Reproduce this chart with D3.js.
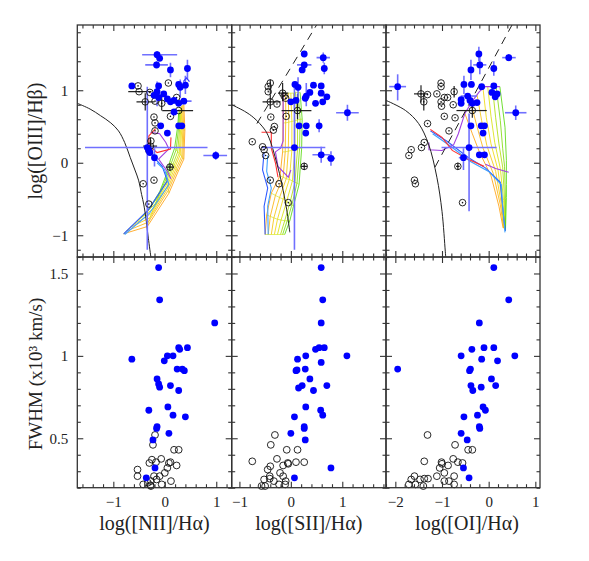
<!DOCTYPE html>
<html>
<head>
<meta charset="utf-8">
<script src="https://cdn.jsdelivr.net/npm/d3@7"></script>
<style>
  body { margin: 0; background: #fff; }
  text { font-family: "Liberation Serif", "DejaVu Serif", serif; fill: #222; }
</style>
</head>
<body>
<div class="chart"></div>
<script>
// panel layout
const W = 589, H = 561;
const colRanges = [[77.3, 231.7], [231.7, 386], [386, 540]];
const xDomains = [[-1.7, 1.3], [-1.15, 1.85], [-2.2, 1.1]];
const xTitles = ["log([NII]/Hα)", "log([SII]/Hα)", "log([OI]/Hα)"];
const yTopDomain = [-1.3, 1.9];
const yBotDomain = [0.2, 1.6];

// ---- top row: line ratios, blue = broad, black = narrow ----
const niiBlue = [[-0.15,1.49],[-0.10,1.44],[-0.16,1.35],[0.11,1.28],[0.44,1.30],[0.40,1.07],[-0.64,1.06],[-0.12,1.06],[0.27,1.08],[0.30,1.04],[-0.15,0.98],[-0.21,0.93],[-0.02,0.95],[-0.12,0.90],[0.05,0.88],[0.11,0.84],[0.18,0.86],[0.27,0.82],[0.37,0.85],[0.18,0.70],[-0.08,0.51],[0.27,0.51],[0.33,0.51],[0.05,0.41],[-0.34,0.21],[-0.31,0.17],[-0.29,0.14],[-0.20,0.07],[0.99,0.10]];
// [x, y, xlo, xhi, ylo, yhi]
const niiBlueErr = [[-0.15,1.49,-0.44,0.24,1.44,1.54],[-0.16,1.35,-0.38,0.06,1.30,1.40],[0.11,1.28,0.11,0.11,1.18,1.38],[0.44,1.30,0.44,0.44,1.15,1.42],[0.40,1.07,0.40,0.40,0.95,1.20],[-0.15,0.98,-0.15,-0.15,0.78,1.12],[0.30,1.04,0.30,0.30,0.90,1.15],[-0.34,0.21,-1.55,0.83,-1.20,1.05],[0.99,0.10,0.75,1.21,0.04,0.16],[-0.20,0.07,-0.20,-0.20,-0.05,0.20],[0.37,0.85,0.20,0.52,0.85,0.85]];
const niiBlack = [[-0.52,1.06],[-0.50,0.98],[-0.38,0.84],[-0.29,0.97],[-0.19,0.85],[-0.06,0.82],[0.07,1.10],[0.23,0.90],[0.11,0.64],[-0.21,0.63],[-0.19,0.55],[-0.19,0.44],[-0.27,0.30],[-0.28,0.23],[-0.31,0.17],[0.10,-0.06],[-0.42,-0.29],[-0.21,-0.24],[-0.31,-0.57],[0.27,0.72]];
const niiBlackErr = [[-0.50,0.98,-0.71,-0.26,0.98,0.98],[-0.38,0.84,-0.55,-0.20,0.72,0.96],[-0.06,0.82,-0.06,-0.06,0.72,0.92],[0.27,0.72,-0.05,0.55,0.72,0.72],[0.10,-0.06,0.02,0.18,-0.11,-0.01],[-0.28,0.23,-0.42,-0.15,0.10,0.35]];
const niiArrow = [[0.42,1.17]];

const siiBlue = [[0.26,1.50],[0.63,1.45],[0.26,1.35],[0.22,1.28],[0.65,1.30],[0.08,1.08],[0.14,1.04],[0.44,1.07],[0.59,1.06],[0.37,0.97],[0.59,0.96],[0.70,0.91],[0.30,0.92],[0.10,0.86],[0.28,0.89],[0.00,0.84],[0.48,0.82],[0.62,0.84],[1.10,0.69],[0.16,0.51],[0.30,0.51],[0.55,0.51],[0.29,0.41],[0.07,0.21],[0.59,0.11],[0.78,0.06]];
const siiBlueErr = [[0.63,1.45,0.50,0.76,1.38,1.52],[0.26,1.35,0.12,0.40,1.35,1.35],[0.65,1.30,0.65,0.65,1.22,1.38],[0.30,0.92,0.30,0.30,0.78,1.10],[0.14,1.04,0.14,0.14,0.90,1.18],[1.10,0.69,0.88,1.32,0.58,0.80],[0.07,0.21,-0.57,0.67,-1.20,1.10],[0.59,0.11,0.42,0.76,0.00,0.22],[0.78,0.06,0.70,0.86,-0.04,0.16],[0.55,0.51,0.55,0.55,0.42,0.60]];
const siiBlack = [[-0.40,1.10],[-0.44,1.05],[-0.44,0.98],[-0.40,0.84],[-0.27,0.81],[-0.16,0.96],[-0.13,0.92],[-0.10,0.89],[0.13,0.72],[-0.39,0.63],[-0.09,0.64],[-0.32,0.50],[-0.34,0.45],[-0.75,0.29],[-0.55,0.22],[-0.52,0.18],[-0.49,0.10],[0.26,-0.05],[-0.40,-0.24],[-0.23,-0.29],[-0.05,-0.55]];
const siiBlackErr = [[-0.40,0.84,-0.55,-0.20,0.74,0.94],[-0.16,0.96,-0.25,-0.05,0.85,1.10],[0.13,0.72,-0.18,0.40,0.60,0.95],[0.26,-0.05,0.20,0.32,-0.10,0.00],[-0.40,1.10,-0.40,-0.40,0.95,1.15]];

const oiBlue = [[-1.95,1.05],[-0.21,1.50],[0.43,1.45],[-0.19,1.35],[-0.38,1.28],[0.11,1.30],[-0.53,1.08],[-0.37,1.08],[-0.15,1.05],[0.11,1.06],[0.07,0.97],[0.18,0.95],[0.14,0.91],[-0.45,0.92],[-0.59,0.87],[-0.59,0.82],[-0.40,0.86],[-0.35,0.82],[-0.25,0.83],[0.58,0.69],[-0.38,0.51],[-0.16,0.51],[-0.09,0.51],[-0.12,0.41],[-0.42,0.21],[-0.54,0.07],[-0.20,0.11],[-0.09,0.11]];
const oiBlueErr = [[-1.95,1.05,-2.13,-1.77,0.86,1.22],[-0.21,1.50,-0.21,-0.21,1.40,1.60],[0.43,1.45,0.29,0.58,1.40,1.50],[-0.19,1.35,-0.33,-0.05,1.22,1.48],[-0.38,1.28,-0.38,-0.38,1.14,1.42],[0.11,1.30,0.11,0.11,1.20,1.40],[-0.45,0.92,-0.60,-0.25,0.92,0.92],[0.58,0.69,0.35,0.81,0.59,0.79],[-0.42,0.21,-1.01,0.17,-0.67,0.68],[-0.54,0.07,-0.64,-0.44,-0.10,0.20],[-0.53,1.08,-0.53,-0.53,0.95,1.20]];
const oiBlack = [[-1.02,1.10],[-1.02,1.05],[-1.45,0.95],[-1.31,0.94],[-1.11,0.95],[-0.95,0.90],[-0.88,0.90],[-1.02,0.84],[-1.01,0.78],[-1.39,0.84],[-0.74,0.98],[-0.76,0.80],[-0.95,0.64],[-0.72,0.62],[-0.35,0.72],[-1.31,0.54],[-0.85,0.44],[-1.38,0.28],[-1.44,0.21],[-1.66,0.18],[-1.71,0.10],[-0.66,-0.05],[-1.59,-0.24],[-1.57,-0.29],[-0.56,-0.55]];
const oiBlackErr = [[-1.45,0.95,-1.60,-1.30,0.83,1.07],[-1.39,0.84,-1.39,-1.39,0.72,0.96],[-0.35,0.72,-0.69,-0.04,0.62,0.82],[-0.66,-0.05,-0.70,-0.62,-0.10,0.00],[-0.74,0.98,-0.74,-0.74,0.90,1.06]];

// demarcation lines (solid) and dashed Seyfert/LINER lines
const niiCurve = [[-1.7,0.82],[-1.45,0.74],[-1.25,0.65],[-1.05,0.55],[-0.9,0.44],[-0.78,0.28],[-0.67,0.07],[-0.58,-0.1],[-0.51,-0.24],[-0.45,-0.44],[-0.41,-0.57],[-0.36,-0.8],[-0.32,-1.04],[-0.27,-1.3]];
const siiCurve = [[-1.15,0.80],[-0.9,0.71],[-0.72,0.62],[-0.5,0.45],[-0.4,0.3],[-0.31,0.09],[-0.22,-0.15],[-0.15,-0.38],[-0.08,-0.65],[-0.02,-0.96]];
const oiCurve = [[-2.2,0.86],[-1.78,0.72],[-1.5,0.54],[-1.29,0.26],[-1.11,-0.2],[-1.0,-0.67],[-0.93,-1.22],[-0.92,-1.3]];
const siiDash = [[-0.66,0.54],[0.50,1.9]];
const oiDash = [[-1.15,-0.06],[0.5,1.9]];

// shock model grids: each line is one model sequence, orange -> green
const niiGrid = [
  [[-0.80,-0.98],[-0.34,-0.88],[0.08,-0.42],[0.26,-0.12],[0.37,0.05],[0.39,0.45],[0.37,0.80]],
  [[-0.74,-0.94],[-0.32,-0.82],[0.07,-0.38],[0.24,-0.10],[0.35,0.07],[0.37,0.45],[0.35,0.79]],
  [[-0.67,-0.89],[-0.29,-0.76],[0.06,-0.35],[0.22,-0.08],[0.33,0.09],[0.35,0.46],[0.33,0.78]],
  [[-0.60,-0.85],[-0.26,-0.70],[0.05,-0.32],[0.20,-0.06],[0.30,0.11],[0.33,0.47],[0.32,0.76]],
  [[-0.53,-0.80],[-0.22,-0.63],[0.04,-0.29],[0.18,-0.04],[0.28,0.13],[0.31,0.48],[0.30,0.74]],
  [[-0.46,-0.76],[-0.18,-0.56],[0.03,-0.26],[0.16,-0.02],[0.25,0.15],[0.29,0.48],[0.29,0.72]],
  [[-0.39,-0.71],[-0.14,-0.48],[0.02,-0.23],[0.13,0.00],[0.22,0.18],[0.27,0.49],[0.28,0.70]],
  [[-0.32,-0.65],[-0.10,-0.40],[0.01,-0.20],[0.10,0.02],[0.19,0.20],[0.25,0.50],[0.27,0.68]]
];
const siiGrid = [
  [[-0.15,0.95],[-0.15,0.55],[-0.16,0.15],[-0.21,-0.18],[-0.38,-0.42],[-0.47,-0.72],[-0.50,-0.99]],
  [[-0.10,0.95],[-0.10,0.55],[-0.11,0.15],[-0.15,-0.20],[-0.30,-0.45],[-0.40,-0.74],[-0.44,-0.99]],
  [[-0.05,0.96],[-0.04,0.56],[-0.05,0.16],[-0.09,-0.22],[-0.22,-0.48],[-0.33,-0.76],[-0.38,-0.99]],
  [[0.00,0.96],[0.02,0.57],[0.02,0.17],[-0.03,-0.23],[-0.15,-0.50],[-0.26,-0.78],[-0.32,-0.99]],
  [[0.05,0.96],[0.08,0.58],[0.08,0.18],[0.03,-0.25],[-0.08,-0.53],[-0.19,-0.79],[-0.26,-0.99]],
  [[0.09,0.97],[0.13,0.59],[0.13,0.19],[0.08,-0.27],[-0.02,-0.56],[-0.12,-0.80],[-0.20,-0.99]],
  [[0.14,0.97],[0.18,0.60],[0.17,0.20],[0.12,-0.28],[0.02,-0.58],[-0.07,-0.80],[-0.16,-0.99]],
  [[0.18,0.97],[0.22,0.60],[0.21,0.20],[0.16,-0.30],[0.05,-0.60],[-0.02,-0.80],[-0.12,-0.99]]
];
const oiGrid = [
  [[-0.51,0.68],[-0.35,0.40],[-0.20,0.15],[0.05,-0.18],[0.22,-0.60],[0.31,-0.90]],
  [[-0.38,0.82],[-0.25,0.50],[-0.12,0.20],[0.10,-0.15],[0.25,-0.58],[0.32,-0.90]],
  [[-0.25,0.94],[-0.15,0.58],[-0.04,0.24],[0.15,-0.12],[0.27,-0.56],[0.33,-0.91]],
  [[-0.12,1.02],[-0.05,0.62],[0.05,0.26],[0.20,-0.10],[0.29,-0.54],[0.34,-0.91]],
  [[-0.02,1.05],[0.05,0.64],[0.13,0.28],[0.25,-0.08],[0.32,-0.52],[0.35,-0.92]],
  [[0.08,1.05],[0.15,0.62],[0.22,0.26],[0.30,-0.06],[0.34,-0.50],[0.35,-0.93]],
  [[0.16,1.05],[0.25,0.58],[0.30,0.20],[0.34,-0.05],[0.36,-0.49],[0.36,-0.93]],
  [[0.24,1.05],[0.35,0.49],[0.38,0.03],[0.38,-0.30],[0.38,-0.48],[0.36,-0.94]]
];

// low-velocity model tracks
const trackColors = ["#2f5bff", "#3fa0ff", "#a040e0", "#ff3030"];
const niiTracks = [
  [[-0.80,-0.98],[-0.32,-0.65],[0.05,-0.25],[-0.05,-0.05],[-0.18,0.05],[-0.25,0.15]],
  [[-0.78,-0.99],[-0.30,-0.70],[0.08,-0.30],[0.00,-0.10],[-0.15,0.00]],
  [[-0.28,0.42],[-0.10,0.40],[0.02,0.28],[0.08,0.19],[-0.12,0.05],[0.05,-0.12],[0.12,-0.22]],
  [[-0.18,0.47],[-0.31,0.37],[-0.31,0.24],[-0.15,0.14],[0.11,0.19],[0.12,0.35]]
];
const siiTracks = [
  [[-0.50,-0.99],[-0.52,-0.60],[-0.45,-0.35],[-0.55,-0.10],[-0.52,0.15]],
  [[-0.44,-0.99],[-0.45,-0.60],[-0.38,-0.35],[-0.47,-0.12],[-0.45,0.10]],
  [[-0.15,0.97],[-0.15,0.30],[-0.20,0.20],[-0.30,0.15],[-0.25,-0.05],[-0.05,-0.20],[0.00,-0.10]],
  [[-0.57,0.42],[-0.38,0.42],[-0.38,0.20],[-0.30,0.00],[-0.25,-0.20]]
];
const oiTracks = [
  [[-1.25,0.44],[-0.90,0.30],[-0.43,0.07],[-0.07,-0.07],[0.25,-0.27],[0.28,-0.48],[0.33,-0.80],[0.36,-0.94]],
  [[-1.20,0.40],[-0.80,0.22],[-0.40,0.02],[0.00,-0.12],[0.27,-0.30],[0.30,-0.60],[0.35,-0.96]],
  [[-1.28,0.28],[-1.28,0.18],[-1.00,0.17],[-0.75,0.25],[-0.65,0.40],[-0.51,0.68],[-0.35,0.85],[-0.20,0.98],[-0.07,1.05],[0.24,1.05]],
  [[-1.25,0.46],[-1.00,0.35],[-0.78,0.17],[-0.45,0.05],[-0.10,-0.05]]
];
const oiTrackExtra = [[-0.07,-0.02],[0.15,-0.08],[0.43,-0.13]];

// ---- bottom row: FWHM (10^3 km/s) ----
const fwhmNiiBlue = [[-0.12,1.536],[-0.10,1.34],[0.97,1.20],[0.27,1.05],[0.29,1.04],[0.44,1.05],[-0.64,0.98],[0.05,1.0],[0.16,1.0],[-0.01,0.97],[0.24,0.92],[0.34,0.92],[0.38,0.91],[-0.15,0.86],[-0.12,0.83],[-0.10,0.81],[0.11,0.82],[0.27,0.79],[0.06,0.69],[-0.31,0.67],[0.16,0.64],[0.40,0.63],[-0.15,0.57],[-0.16,0.56],[0.08,0.53],[-0.23,0.49],[-0.19,0.32],[-0.36,0.26]];
const fwhmNiiBlack = [[-0.19,0.52],[-0.23,0.46],[0.18,0.43],[0.27,0.43],[-0.07,0.375],[-0.25,0.37],[-0.30,0.35],[-0.17,0.355],[0.11,0.355],[0.08,0.35],[0.23,0.335],[0.05,0.32],[-0.53,0.31],[0.0,0.29],[-0.10,0.27],[-0.53,0.27],[-0.21,0.27],[-0.16,0.25],[-0.27,0.24],[-0.33,0.23],[-0.42,0.22],[-0.28,0.215],[0.12,0.24],[-0.06,0.22],[-0.27,0.21]];
const fwhmSiiBlue = [[0.59,1.536],[0.62,1.34],[0.59,1.20],[0.48,1.04],[0.55,1.05],[0.65,1.05],[1.09,1.0],[0.29,1.0],[0.13,0.98],[0.59,0.96],[0.10,0.91],[0.12,0.915],[0.28,0.92],[0.37,0.86],[0.15,0.805],[0.22,0.82],[0.70,0.82],[0.44,0.79],[0.29,0.69],[0.58,0.67],[0.62,0.64],[0.07,0.63],[0.26,0.57],[0.26,0.56],[0.0,0.53],[0.28,0.49],[0.78,0.32],[0.07,0.26]];
const fwhmSiiBlack = [[-0.31,0.52],[-0.39,0.46],[-0.08,0.43],[0.13,0.43],[-0.27,0.375],[-0.75,0.36],[0.10,0.355],[0.26,0.355],[-0.06,0.35],[-0.05,0.345],[-0.15,0.335],[-0.40,0.33],[-0.45,0.31],[-0.21,0.29],[-0.41,0.27],[-0.41,0.255],[-0.15,0.27],[-0.10,0.24],[-0.52,0.25],[-0.33,0.24],[-0.23,0.22],[-0.11,0.22],[-0.57,0.21],[-0.50,0.21]];
const fwhmOiBlue = [[0.11,1.536],[0.43,1.34],[-0.20,1.20],[-0.36,1.04],[-0.10,1.05],[0.11,1.05],[0.56,1.0],[-0.59,1.0],[-0.15,0.98],[0.19,0.97],[-1.95,0.92],[-0.39,0.92],[-0.41,0.91],[0.06,0.86],[0.15,0.82],[-0.38,0.82],[-0.34,0.79],[-0.16,0.81],[-0.12,0.69],[-0.07,0.67],[-0.53,0.63],[-0.24,0.64],[-0.20,0.57],[-0.19,0.56],[-0.59,0.53],[-0.46,0.49],[-0.54,0.32],[-0.42,0.26]];
const fwhmOiBlack = [[-1.31,0.52],[-0.72,0.46],[-0.44,0.43],[-0.35,0.43],[-0.76,0.375],[-1.38,0.36],[-0.66,0.355],[-0.56,0.35],[-1.01,0.355],[-1.00,0.345],[-0.87,0.335],[-1.05,0.32],[-0.95,0.29],[-1.11,0.27],[-1.59,0.27],[-0.74,0.27],[-1.38,0.255],[-1.30,0.255],[-1.66,0.25],[-1.47,0.25],[-0.95,0.24],[-0.85,0.24],[-1.71,0.22],[-0.74,0.22],[-1.57,0.22],[-1.40,0.21]];

const panels = [
  {grid: niiGrid, tracks: niiTracks, curve: niiCurve, dash: null, blue: niiBlue, blueErr: niiBlueErr, black: niiBlack, blackErr: niiBlackErr, fBlue: fwhmNiiBlue, fBlack: fwhmNiiBlack, rungs: true},
  {grid: siiGrid, tracks: siiTracks, curve: siiCurve, dash: siiDash, blue: siiBlue, blueErr: siiBlueErr, black: siiBlack, blackErr: siiBlackErr, fBlue: fwhmSiiBlue, fBlack: fwhmSiiBlack, rungs: true},
  {grid: oiGrid, tracks: oiTracks, curve: oiCurve, dash: oiDash, blue: oiBlue, blueErr: oiBlueErr, black: oiBlack, blackErr: oiBlackErr, fBlue: fwhmOiBlue, fBlack: fwhmOiBlack, rungs: false}
];

const svg = d3.select(".chart").append("svg")
  .attr("width", W).attr("height", H);

const yTop = d3.scaleLinear(yTopDomain, [257, 25]);
const yBot = d3.scaleLinear(yBotDomain, [487.7, 257]);
const gridColor = d3.scaleLinear([0, 0.5, 1], ["#ff9a00", "#eee000", "#4cd600"]);

function tickVals(domain, step) {
  const a = Math.ceil(domain[0] / step - 1e-6), b = Math.floor(domain[1] / step + 1e-6);
  return d3.range(a, b + 1).map(i => +(i * step).toFixed(3));
}

// frame with inward ticks on all four sides
function frame(g, x, y, xMajor, xMinor, yMajor, yMinor, labelX, labelY, yFmt) {
  const [x0, x1] = x.range(), [y0, y1] = y.range();
  const xMin = tickVals(x.domain(), xMinor).filter(v => Math.abs(v / xMajor - Math.round(v / xMajor)) > 1e-6);
  const yMin = tickVals(y.domain(), yMinor).filter(v => Math.abs(v / yMajor - Math.round(v / yMajor)) > 1e-6);
  const xMaj = tickVals(x.domain(), xMajor), yMaj = tickVals(y.domain(), yMajor);
  const sides = [
    [d3.axisBottom, x, `translate(0,${y0})`, xMaj, xMin, labelX, d3.format("")],
    [d3.axisTop, x, `translate(0,${y1})`, xMaj, xMin, false, null],
    [d3.axisLeft, y, `translate(${x0},0)`, yMaj, yMin, labelY, yFmt],
    [d3.axisRight, y, `translate(${x1},0)`, yMaj, yMin, false, null]
  ];
  sides.forEach(([ax, s, tr, maj, min, lab, fmt]) => {
    const a = g.append("g").attr("transform", tr)
      .call(ax(s).tickValues(maj).tickSize(-6).tickPadding(lab ? 9 : 0)
        .tickFormat(lab ? d => fmt(d).replace("-", "−") : ""));
    a.select(".domain").remove();
    a.selectAll("line").attr("stroke", "#333").attr("stroke-width", 1.1);
    a.selectAll("text").attr("font-size", 15).attr("fill", "#222")
      .attr("font-family", "'Liberation Serif', serif");
    const m = g.append("g").attr("transform", tr)
      .call(ax(s).tickValues(min).tickSize(-3.5).tickFormat(""));
    m.select(".domain").remove();
    m.selectAll("line").attr("stroke", "#333").attr("stroke-width", 1.1);
  });
  g.append("rect").attr("x", x0).attr("y", y1).attr("width", x1 - x0).attr("height", y0 - y1)
    .attr("fill", "none").attr("stroke", "#333").attr("stroke-width", 1.3);
}

function errBars(g, x, y, errs, color, width) {
  errs.forEach(e => {
    if (e[2] !== e[3]) g.append("line").attr("x1", x(e[2])).attr("x2", x(e[3]))
      .attr("y1", y(e[1])).attr("y2", y(e[1])).attr("stroke", color).attr("stroke-width", width);
    if (e[4] !== e[5]) g.append("line").attr("x1", x(e[0])).attr("x2", x(e[0]))
      .attr("y1", y(e[4])).attr("y2", y(e[5])).attr("stroke", color).attr("stroke-width", width);
  });
}

panels.forEach((p, i) => {
  const x = d3.scaleLinear(xDomains[i], colRanges[i]);
  const line = d3.line().x(d => x(d[0])).y(d => yTop(d[1]));
  const smooth = d3.line().x(d => x(d[0])).y(d => yTop(d[1])).curve(d3.curveCatmullRom);

  // ---------- top panel ----------
  const clipId = "clipTop" + i;
  svg.append("clipPath").attr("id", clipId).append("rect")
    .attr("x", colRanges[i][0]).attr("y", 25)
    .attr("width", colRanges[i][1] - colRanges[i][0]).attr("height", 232);
  const top = svg.append("g").attr("clip-path", `url(#${clipId})`);

  // model grid
  const n = p.grid.length;
  if (p.rungs) {
    p.grid[0].forEach((_, j) => {
      top.append("path").attr("d", line(p.grid.map(l => l[j])))
        .attr("fill", "none").attr("stroke", "#c8e800").attr("stroke-width", 0.6);
    });
  }
  p.grid.forEach((l, k) => {
    top.append("path").attr("d", line(l)).attr("fill", "none")
      .attr("stroke", gridColor(k / (n - 1))).attr("stroke-width", 0.8);
  });
  p.tracks.forEach((t, k) => {
    top.append("path").attr("d", line(t)).attr("fill", "none")
      .attr("stroke", trackColors[k]).attr("stroke-width", 1.1);
  });
  if (i === 2) {
    top.append("path").attr("d", line(oiTrackExtra)).attr("fill", "none")
      .attr("stroke", trackColors[2]).attr("stroke-width", 1.1);
  }

  // demarcation lines
  top.append("path").attr("d", smooth(p.curve)).attr("fill", "none")
    .attr("stroke", "#222").attr("stroke-width", 1);
  if (p.dash) {
    top.append("path").attr("d", line(p.dash)).attr("fill", "none")
      .attr("stroke", "#222").attr("stroke-width", 1).attr("stroke-dasharray", "8,6");
  }

  // error bars
  errBars(top, x, yTop, p.blackErr, "#222", 1.2);
  errBars(top, x, yTop, p.blueErr, "#7070ff", 1.6);

  if (i === 0) {
    niiArrow.forEach(a => {
      top.append("path")
        .attr("d", `M${x(a[0] - 0.06)},${yTop(a[1] - 0.05)}L${x(a[0])},${yTop(a[1])}L${x(a[0] + 0.06)},${yTop(a[1] - 0.05)}`)
        .attr("fill", "none").attr("stroke", "#3b3bff").attr("stroke-width", 1.3);
    });
  }

  // narrow-line objects: circle with dot
  top.selectAll(".nb").data(p.black).join("circle")
    .attr("cx", d => x(d[0])).attr("cy", d => yTop(d[1])).attr("r", 3.3)
    .attr("fill", "none").attr("stroke", "#111").attr("stroke-width", 0.9);
  top.selectAll(".nd").data(p.black).join("circle")
    .attr("cx", d => x(d[0])).attr("cy", d => yTop(d[1])).attr("r", 0.8).attr("fill", "#111");
  top.selectAll(".bb").data(p.blue).join("circle")
    .attr("cx", d => x(d[0])).attr("cy", d => yTop(d[1])).attr("r", 3.4).attr("fill", "#0000ff");

  frame(svg.append("g"), x, yTop, 1, 0.2, 1, 0.2, false, i === 0, d3.format(""));

  // ---------- bottom panel ----------
  const bot = svg.append("g");
  bot.selectAll(".fk").data(p.fBlack).join("circle")
    .attr("cx", d => x(d[0])).attr("cy", d => yBot(d[1])).attr("r", 3.4)
    .attr("fill", "none").attr("stroke", "#111").attr("stroke-width", 0.9);
  bot.selectAll(".fb").data(p.fBlue).join("circle")
    .attr("cx", d => x(d[0])).attr("cy", d => yBot(d[1])).attr("r", 3.4).attr("fill", "#0000ff");

  frame(svg.append("g"), x, yBot, 1, 0.2, 0.5, 0.1, true, i === 0, d3.format(""));

  // x axis title
  svg.append("text").text(xTitles[i])
    .attr("x", (colRanges[i][0] + colRanges[i][1]) / 2 + (i === 2 ? 4 : 0))
    .attr("y", 530).attr("text-anchor", "middle").attr("font-size", 20);
});

// y axis titles
svg.append("text").text("log([OIII]/Hβ)")
  .attr("transform", "translate(42,141) rotate(-90)")
  .attr("text-anchor", "middle").attr("font-size", 20);
svg.append("text").text("FWHM (x10³ km/s)")
  .attr("transform", "translate(42,374) rotate(-90)")
  .attr("text-anchor", "middle").attr("font-size", 19);
</script>
</body>
</html>
